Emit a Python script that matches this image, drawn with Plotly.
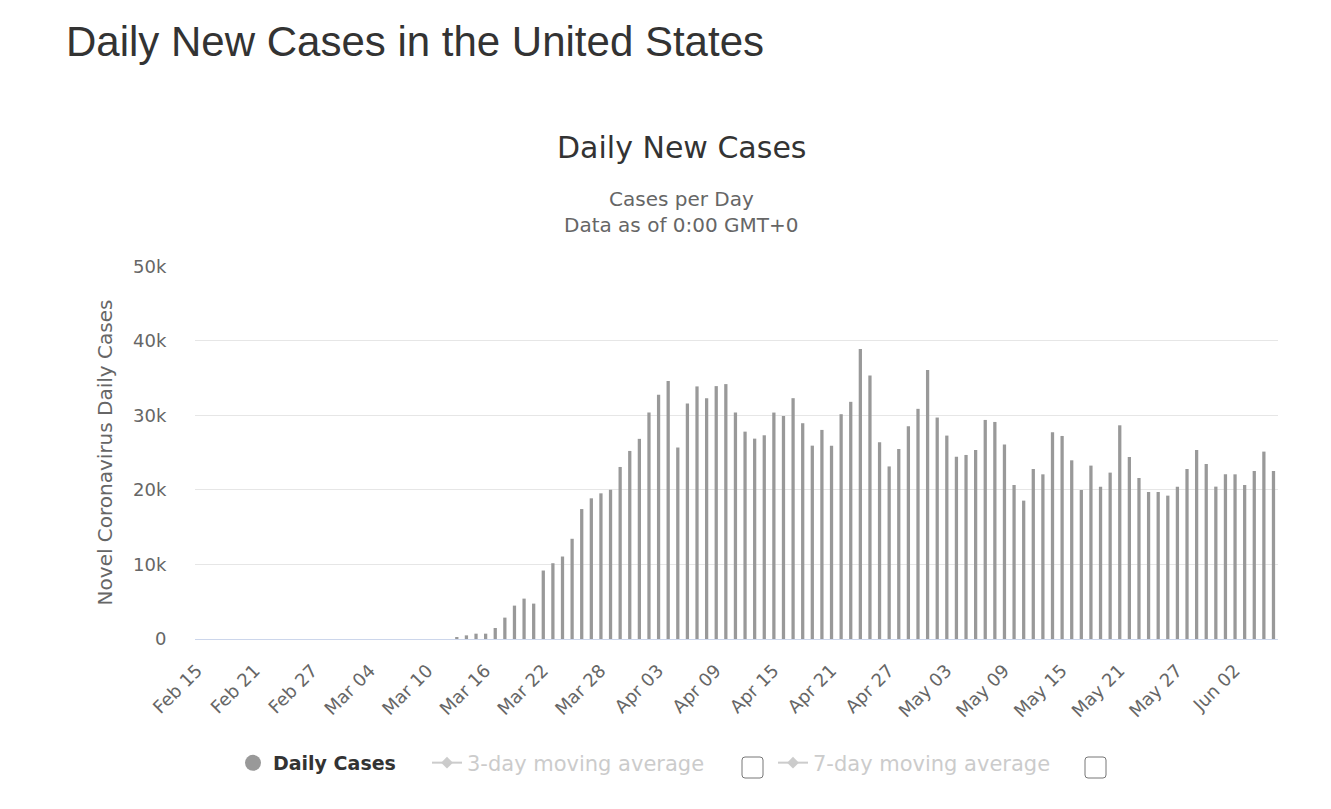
import numpy as np
import pandas as pd
import plotly.graph_objects as go

# Daily new cases, Feb 15 - Jun 05
dates = pd.date_range("2020-02-15", "2020-06-05", freq="D")
day_labels = [d.strftime("%b %d") for d in dates]

daily_cases = [
    0, 0, 0, 0, 0, 0, 0, 0, 0, 0, 0, 0, 0, 0,          # Feb 15 - Feb 28
    0, 0, 0, 0, 0, 0, 0, 0, 0, 0, 0, 0,                # Feb 29 - Mar 11
    270, 490, 715, 715, 1480, 2870, 4480, 5420, 4750, 9190,
    10170, 11070, 13450, 17440, 18880, 19550, 20040, 23090, 25240, 26860,
    30400, 32780, 34630, 25700, 31610, 33900, 32320, 33940, 34210, 30390,
    27830, 26890, 27340, 30390, 29940, 32320, 28960, 25950, 28060, 25950,
    30170, 31830, 38920, 35380, 26400, 23160, 25500, 28550, 30890, 36090,
    29720, 27300, 24470, 24700, 25370, 29400, 29130, 26090, 20670, 18570,
    22820, 22100, 27740, 27250, 23980, 20000, 23270, 20450, 22330, 28680,
    24430, 21610, 19730, 19730, 19240, 20450, 22820, 25370, 23490, 20450,
    22100, 22100, 20670, 22550, 25150, 22550,
]

y_ticks = [0, 10000, 20000, 30000, 40000, 50000]
y_tick_labels = ["0", "10k", "20k", "30k", "40k", "50k"]

# moving averages (hidden in the original, only shown in the legend)
avg3 = pd.Series(daily_cases).rolling(3).mean()
avg7 = pd.Series(daily_cases).rolling(7).mean()

W, H = 1331, 809
OFF = 8  # page body margin
L, R, T, B = 195 - OFF, 1278 - OFF, 266 - OFF, 639 - OFF


def px(x):
    return (x - OFF - L) / (R - L)


def py(y):
    return (B - (y - OFF)) / (B - T)


fig = go.Figure()

fig.add_trace(go.Bar(
    x=day_labels, y=daily_cases, name="Daily Cases",
    marker=dict(color="#999999", line=dict(width=0)),
    legendgroup="daily", showlegend=False,
))
# legend entry with a round symbol
fig.add_trace(go.Scatter(
    x=[None], y=[None], mode="markers", name="Daily Cases",
    marker=dict(color="#999999", size=16, symbol="circle"),
    legendgroup="daily", legend="legend",
))
fig.add_trace(go.Scatter(
    x=day_labels, y=avg3, mode="lines+markers", name="3-day moving average",
    line=dict(color="#999999", width=2), marker=dict(symbol="diamond", size=9),
    visible="legendonly", legend="legend2",
))
fig.add_trace(go.Scatter(
    x=day_labels, y=avg7, mode="lines+markers", name="7-day moving average",
    line=dict(color="#999999", width=2), marker=dict(symbol="diamond", size=9),
    visible="legendonly", legend="legend2",
))

fig.update_layout(
    width=W, height=H,
    margin=dict(l=L, r=W - R, t=T, b=H - B),
    paper_bgcolor="white", plot_bgcolor="white",
    font=dict(family="DejaVu Sans", color="#666666"),
    bargap=0.66,
    title=dict(
        text="Daily New Cases in the United States",
        font=dict(family="Liberation Sans", size=42, color="#333333"),
        xref="container", x=(66 - OFF) / W, xanchor="left",
        yref="container", y=1 - (41 - OFF) / H, yanchor="middle",
    ),
    xaxis=dict(
        type="category", tickangle=-45,
        tickvals=day_labels[::6], ticktext=day_labels[::6],
        tickfont=dict(size=18, color="#666666"),
        showgrid=False, showline=True, linecolor="#ccd6eb", linewidth=1,
        ticks="outside", ticklen=13, tickcolor="rgba(0,0,0,0)",
        ticklabelshift=-10,
        range=[-1.25, len(day_labels) - 0.53],
    ),
    yaxis=dict(
        range=[0, 50060], tickvals=y_ticks, ticktext=y_tick_labels,
        tickfont=dict(size=18, color="#666666"),
        gridcolor="#e6e6e6", gridwidth=1, zeroline=False,
        ticks="outside", ticklen=24, tickcolor="rgba(0,0,0,0)",
        title=dict(text="Novel Coronavirus Daily Cases",
                   font=dict(size=20, color="#666666"), standoff=15),
    ),
    legend=dict(
        orientation="h", x=px(233), xanchor="left", y=py(763), yanchor="middle",
        font=dict(family="DejaVu Sans", size=19, color="#333333", weight="bold"),
        bgcolor="rgba(0,0,0,0)",
    ),
    legend2=dict(
        orientation="h", x=px(427), xanchor="left", y=py(763), yanchor="middle",
        font=dict(family="DejaVu Sans", size=21, color="#999999"),
        entrywidth=301, bgcolor="rgba(0,0,0,0)",
    ),
    annotations=[
        dict(text="Daily New Cases", x=px(681), y=py(147), xref="paper", yref="paper",
             yanchor="middle", showarrow=False, font=dict(size=30, color="#333333")),
        dict(text="Cases per Day", x=px(681), y=py(199), xref="paper", yref="paper",
             yanchor="middle", showarrow=False, font=dict(size=20, color="#666666")),
        dict(text="Data as of 0:00 GMT+0", x=px(681), y=py(225), xref="paper", yref="paper",
             yanchor="middle", showarrow=False, font=dict(size=20, color="#666666")),
    ],
)


# checkboxes next to the moving-average legend entries
def checkbox(x0, y0, size=21, r=3):
    x1, y1 = x0 + size, y0 + size
    path = (f"M {px(x0 + r)},{py(y0)} L {px(x1 - r)},{py(y0)} "
            f"Q {px(x1)},{py(y0)} {px(x1)},{py(y0 + r)} L {px(x1)},{py(y1 - r)} "
            f"Q {px(x1)},{py(y1)} {px(x1 - r)},{py(y1)} L {px(x0 + r)},{py(y1)} "
            f"Q {px(x0)},{py(y1)} {px(x0)},{py(y1 - r)} L {px(x0)},{py(y0 + r)} "
            f"Q {px(x0)},{py(y0)} {px(x0 + r)},{py(y0)} Z")
    return dict(type="path", path=path, xref="paper", yref="paper",
                line=dict(color="#767676", width=1), fillcolor="white")


fig.update_layout(shapes=[checkbox(742, 757), checkbox(1085, 757)])

fig.write_html("out.html")
